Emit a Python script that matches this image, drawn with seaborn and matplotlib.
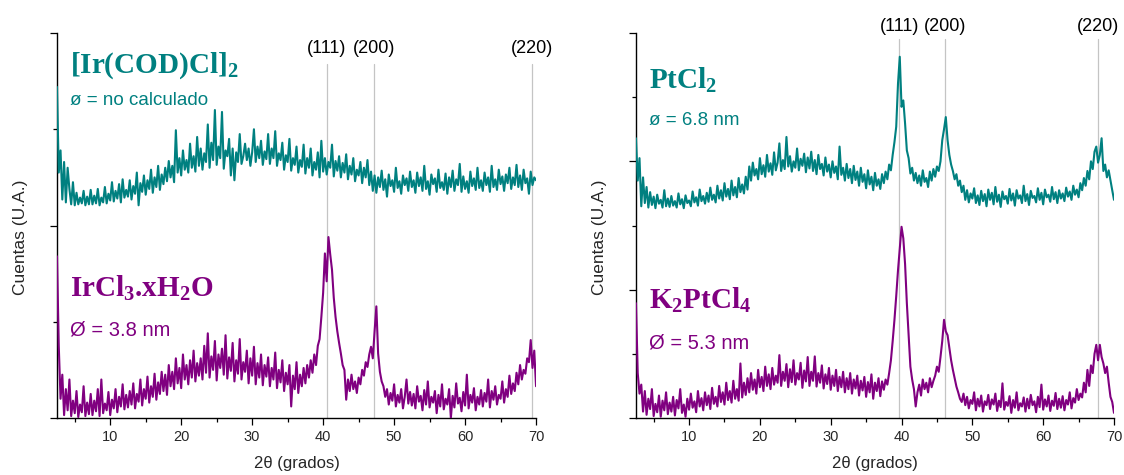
import numpy as np
import pandas as pd
import matplotlib
matplotlib.use("Agg")
import matplotlib.pyplot as plt
from matplotlib.ticker import MultipleLocator, NullFormatter
import seaborn as sns

# ---------------------------------------------------------------------------
# data (2theta grid, step 0.25 deg)
# ---------------------------------------------------------------------------
two_theta = np.arange(2.5, 70.001, 0.25)

# [Ir(COD)Cl]2 (left, top trace)
ir_cod_rows = [
    [3.44, 2.55, 2.78, 2.27, 2.66, 2.24, 2.60, 2.38, 2.22, 2.45, 2.21, 2.34, 2.22, 2.29, 2.23, 2.36, 2.21, 2.30, 2.22, 2.37],
    [2.22, 2.31, 2.23, 2.38, 2.21, 2.29, 2.24, 2.40, 2.23, 2.33, 2.26, 2.45, 2.25, 2.36, 2.28, 2.43, 2.24, 2.48, 2.29, 2.37],
    [2.30, 2.47, 2.27, 2.41, 2.33, 2.55, 2.21, 2.44, 2.35, 2.52, 2.32, 2.47, 2.38, 2.58, 2.34, 2.50, 2.40, 2.62, 2.37, 2.53],
    [2.43, 2.60, 2.46, 2.67, 2.50, 2.62, 2.45, 2.99, 2.55, 2.70, 2.52, 2.78, 2.58, 2.68, 2.55, 2.85, 2.60, 2.72, 2.56, 2.92],
    [2.62, 2.80, 2.58, 2.75, 2.66, 3.05, 2.60, 2.86, 2.68, 3.20, 2.63, 2.82, 2.70, 3.18, 2.59, 2.78, 2.72, 2.90, 2.52, 2.80],
    [2.47, 2.76, 2.66, 2.95, 2.64, 2.72, 2.85, 2.68, 2.80, 2.62, 2.76, 3.00, 2.66, 2.82, 2.70, 2.88, 2.63, 2.77, 2.69, 2.95],
    [2.64, 2.80, 2.70, 2.98, 2.62, 2.75, 2.68, 2.86, 2.58, 2.73, 2.66, 2.90, 2.57, 2.70, 2.63, 2.82, 2.55, 2.68, 2.61, 2.84],
    [2.54, 2.70, 2.60, 2.80, 2.52, 2.66, 2.58, 2.76, 2.50, 2.88, 2.56, 2.70, 2.53, 2.66, 2.60, 2.84, 2.51, 2.67, 2.57, 2.72],
    [2.50, 2.65, 2.55, 2.74, 2.48, 2.62, 2.53, 2.70, 2.46, 2.58, 2.52, 2.66, 2.44, 2.60, 2.50, 2.68, 2.42, 2.56, 2.36, 2.52],
    [2.34, 2.50, 2.40, 2.57, 2.37, 2.48, 2.30, 2.53, 2.41, 2.47, 2.35, 2.60, 2.39, 2.46, 2.33, 2.52, 2.42, 2.49, 2.36, 2.56],
    [2.40, 2.47, 2.34, 2.55, 2.41, 2.50, 2.36, 2.62, 2.38, 2.46, 2.32, 2.53, 2.43, 2.49, 2.35, 2.58, 2.39, 2.45, 2.37, 2.54],
    [2.33, 2.50, 2.40, 2.57, 2.36, 2.48, 2.42, 2.64, 2.35, 2.51, 2.38, 2.46, 2.34, 2.56, 2.41, 2.49, 2.37, 2.60, 2.39, 2.47],
    [2.36, 2.55, 2.42, 2.50, 2.35, 2.62, 2.40, 2.48, 2.37, 2.58, 2.43, 2.51, 2.36, 2.53, 2.44, 2.60, 2.38, 2.50, 2.42, 2.63],
    [2.40, 2.52, 2.37, 2.58, 2.44, 2.49, 2.33, 2.56, 2.42, 2.50, 2.47],
]

# IrCl3.xH2O (left, bottom trace)
ircl3_rows = [
    [1.68, 0.75, 0.20, 0.45, 0.03, 0.30, 0.08, 0.40, 0.02, 0.18, 0.05, 0.28, 0.01, 0.14, 0.06, 0.33, 0.02, 0.16, 0.04, 0.25],
    [0.03, 0.18, 0.07, 0.30, 0.02, 0.40, 0.05, 0.15, 0.08, 0.27, 0.03, 0.19, 0.10, 0.30, 0.06, 0.22, 0.12, 0.35, 0.09, 0.24],
    [0.11, 0.28, 0.14, 0.36, 0.10, 0.25, 0.17, 0.40, 0.13, 0.30, 0.20, 0.43, 0.16, 0.33, 0.22, 0.46, 0.19, 0.37, 0.25, 0.48],
    [0.28, 0.45, 0.24, 0.55, 0.33, 0.48, 0.30, 0.62, 0.36, 0.52, 0.31, 0.66, 0.40, 0.55, 0.35, 0.60, 0.42, 0.70, 0.38, 0.57],
    [0.44, 0.62, 0.40, 0.75, 0.47, 0.88, 0.42, 0.64, 0.50, 0.80, 0.39, 0.66, 0.52, 0.72, 0.45, 0.86, 0.41, 0.63, 0.49, 0.78],
    [0.38, 0.60, 0.46, 0.82, 0.40, 0.58, 0.48, 0.70, 0.36, 0.62, 0.44, 0.74, 0.35, 0.57, 0.42, 0.66, 0.34, 0.55, 0.43, 0.63],
    [0.33, 0.52, 0.40, 0.68, 0.31, 0.50, 0.37, 0.60, 0.28, 0.47, 0.35, 0.55, 0.12, 0.44, 0.30, 0.58, 0.26, 0.45, 0.33, 0.52],
    [0.36, 0.55, 0.42, 0.60, 0.47, 0.66, 0.55, 0.75, 0.82, 1.05, 1.30, 1.71, 1.42, 1.88, 1.70, 1.54, 1.25, 1.05, 0.90, 0.78],
    [0.67, 0.55, 0.50, 0.19, 0.40, 0.28, 0.45, 0.30, 0.38, 0.26, 0.42, 0.35, 0.50, 0.44, 0.58, 0.53, 0.66, 0.74, 0.62, 0.90],
    [1.16, 0.67, 0.48, 0.38, 0.33, 0.22, 0.30, 0.14, 0.26, 0.18, 0.35, 0.12, 0.24, 0.16, 0.30, 0.10, 0.22, 0.40, 0.15, 0.27],
    [0.13, 0.25, 0.10, 0.33, 0.17, 0.23, 0.08, 0.29, 0.14, 0.38, 0.11, 0.22, 0.16, 0.28, 0.05, 0.24, 0.12, 0.35, 0.09, 0.20],
    [0.14, 0.30, 0.00, 0.23, 0.11, 0.36, 0.15, 0.21, 0.07, 0.27, 0.13, 0.45, 0.10, 0.24, 0.16, 0.31, 0.08, 0.22, 0.14, 0.29],
    [0.12, 0.26, 0.17, 0.40, 0.11, 0.28, 0.19, 0.33, 0.14, 0.24, 0.20, 0.38, 0.16, 0.30, 0.22, 0.44, 0.25, 0.36, 0.28, 0.47],
    [0.35, 0.55, 0.40, 0.50, 0.46, 0.62, 0.58, 0.81, 0.52, 0.70, 0.33],
]

# PtCl2 (right, top trace)
ptcl2_rows = [
    [4.36, 3.70, 4.05, 3.30, 3.75, 3.35, 3.60, 3.28, 3.52, 3.32, 3.45, 3.27, 3.48, 3.34, 3.40, 3.28, 3.55, 3.30, 3.42, 3.29],
    [3.46, 3.31, 3.38, 3.28, 3.50, 3.33, 3.41, 3.27, 3.47, 3.35, 3.39, 3.30, 3.53, 3.36, 3.44, 3.31, 3.56, 3.38, 3.46, 3.34],
    [3.51, 3.37, 3.59, 3.40, 3.48, 3.36, 3.62, 3.42, 3.55, 3.39, 3.66, 3.45, 3.57, 3.41, 3.70, 3.47, 3.60, 3.44, 3.74, 3.52],
    [3.64, 3.50, 3.76, 3.56, 3.92, 3.70, 3.98, 3.78, 3.88, 3.72, 4.05, 3.80, 3.94, 3.76, 4.10, 3.84, 3.97, 3.79, 4.14, 3.86],
    [3.98, 4.28, 3.85, 4.02, 3.88, 4.38, 3.92, 4.08, 3.84, 4.00, 3.90, 4.20, 3.86, 4.04, 3.93, 4.12, 3.83, 4.06, 3.89, 4.15],
    [3.85, 4.02, 3.80, 4.10, 3.88, 3.96, 3.78, 4.06, 3.84, 3.95, 3.75, 4.00, 3.82, 3.92, 3.72, 4.23, 3.79, 3.90, 3.70, 3.96],
    [3.74, 3.88, 3.66, 3.93, 3.71, 3.84, 3.62, 3.90, 3.68, 3.80, 3.58, 3.86, 3.64, 3.76, 3.55, 3.82, 3.62, 3.72, 3.57, 3.80],
    [3.66, 3.84, 3.72, 3.95, 3.86, 4.10, 4.30, 4.54, 5.21, 5.63, 4.85, 4.95, 4.59, 4.17, 4.05, 3.81, 3.90, 3.70, 3.82, 3.66],
    [3.78, 3.62, 3.86, 3.68, 3.74, 3.60, 3.84, 3.70, 3.88, 3.76, 3.92, 3.85, 4.00, 4.33, 4.50, 4.69, 4.33, 4.10, 3.95, 3.85],
    [3.72, 3.80, 3.62, 3.70, 3.52, 3.62, 3.40, 3.55, 3.36, 3.50, 3.42, 3.58, 3.35, 3.47, 3.32, 3.54, 3.38, 3.49, 3.30, 3.56],
    [3.40, 3.51, 3.33, 3.60, 3.37, 3.48, 3.29, 3.53, 3.41, 3.46, 3.34, 3.57, 3.39, 3.50, 3.31, 3.55, 3.42, 3.47, 3.35, 3.62],
    [3.38, 3.49, 3.32, 3.54, 3.43, 3.46, 3.36, 3.58, 3.40, 3.51, 3.33, 3.56, 3.44, 3.48, 3.37, 3.60, 3.41, 3.52, 3.35, 3.55],
    [3.42, 3.50, 3.38, 3.59, 3.45, 3.53, 3.40, 3.62, 3.48, 3.56, 3.44, 3.66, 3.55, 3.74, 3.62, 3.85, 3.72, 4.00, 3.88, 4.15],
    [4.23, 3.98, 4.10, 4.36, 3.85, 3.95, 3.75, 3.86, 3.70, 3.55, 3.40],
]

# K2PtCl4 (right, bottom trace)
k2ptcl4_rows = [
    [1.79, 0.70, 0.38, 0.52, 0.10, 0.42, 0.05, 0.30, 0.14, 0.45, 0.03, 0.22, 0.09, 0.35, 0.02, 0.27, 0.12, 0.40, 0.06, 0.24],
    [0.10, 0.33, 0.04, 0.28, 0.15, 0.45, 0.08, 0.21, 0.02, 0.30, 0.13, 0.38, 0.16, 0.26, 0.09, 0.42, 0.18, 0.31, 0.12, 0.40],
    [0.20, 0.35, 0.14, 0.47, 0.22, 0.33, 0.18, 0.50, 0.25, 0.40, 0.21, 0.55, 0.28, 0.42, 0.24, 0.58, 0.30, 0.45, 0.27, 0.85],
    [0.32, 0.55, 0.36, 0.62, 0.40, 0.70, 0.44, 0.60, 0.38, 0.75, 0.48, 0.64, 0.42, 0.80, 0.50, 0.68, 0.45, 0.78, 0.52, 0.66],
    [0.55, 0.98, 0.50, 0.72, 0.58, 0.84, 0.48, 0.76, 0.56, 0.90, 0.52, 0.70, 0.60, 0.86, 0.47, 0.74, 0.57, 0.95, 0.50, 0.72],
    [0.58, 0.96, 0.49, 0.70, 0.55, 0.82, 0.46, 0.68, 0.53, 0.78, 0.44, 0.66, 0.50, 0.75, 0.42, 0.64, 0.48, 0.72, 0.40, 0.62],
    [0.45, 0.70, 0.38, 0.60, 0.46, 0.66, 0.35, 0.58, 0.43, 0.64, 0.33, 0.56, 0.40, 0.68, 0.30, 0.55, 0.42, 0.62, 0.34, 0.57],
    [0.44, 0.60, 0.52, 0.70, 0.90, 1.20, 1.53, 1.90, 2.30, 2.65, 2.98, 2.80, 2.40, 1.79, 1.30, 0.80, 0.60, 0.45, 0.18, 0.40],
    [0.52, 0.35, 0.60, 0.45, 0.55, 0.40, 0.62, 0.48, 0.58, 0.66, 0.80, 0.72, 0.95, 1.20, 1.53, 1.35, 1.29, 1.10, 0.90, 0.75],
    [0.62, 0.49, 0.40, 0.30, 0.25, 0.38, 0.20, 0.33, 0.15, 0.28, 0.22, 0.40, 0.12, 0.30, 0.18, 0.35, 0.10, 0.26, 0.20, 0.36],
    [0.14, 0.29, 0.21, 0.38, 0.11, 0.27, 0.17, 0.54, 0.13, 0.25, 0.19, 0.34, 0.08, 0.28, 0.16, 0.40, 0.12, 0.23, 0.18, 0.32],
    [0.10, 0.30, 0.15, 0.36, 0.20, 0.26, 0.09, 0.33, 0.17, 0.52, 0.13, 0.29, 0.18, 0.35, 0.11, 0.27, 0.19, 0.39, 0.14, 0.30],
    [0.16, 0.34, 0.12, 0.28, 0.21, 0.40, 0.15, 0.31, 0.24, 0.45, 0.28, 0.38, 0.32, 0.55, 0.40, 0.75, 0.50, 0.82, 0.70, 1.00],
    [1.14, 0.90, 1.14, 0.95, 0.85, 0.70, 0.80, 0.55, 0.33, 0.25, 0.08],
]

peak_names = ["(111)", "(200)", "(220)"]
peaks_ir = [40.5, 47.2, 69.4]
peaks_pt = [39.7, 46.2, 67.8]

labels_ir = [r"[Ir(COD)Cl]$_2$", "ø = no calculado", r"IrCl$_3$.xH$_2$O", "Ø = 3.8 nm"]
labels_pt = [r"PtCl$_2$", "ø = 6.8 nm", r"K$_2$PtCl$_4$", "Ø = 5.3 nm"]

TEAL = "#008080"
PURPLE = "#800080"
GREY = "#c4c4c4"


def flat(rows):
    return [v for r in rows for v in r]


df = pd.DataFrame({
    "two_theta": two_theta,
    "ir_cod": flat(ir_cod_rows),
    "ircl3": flat(ircl3_rows),
    "ptcl2": flat(ptcl2_rows),
    "k2ptcl4": flat(k2ptcl4_rows),
})

# ---------------------------------------------------------------------------
# styling
# ---------------------------------------------------------------------------
sns.set_theme(style="ticks")
plt.rcParams["font.family"] = ["Liberation Sans", "DejaVu Sans"]
plt.rcParams["mathtext.fontset"] = "custom"
plt.rcParams["mathtext.rm"] = "Liberation Serif:bold"
plt.rcParams["mathtext.bf"] = "Liberation Serif:bold"
plt.rcParams["mathtext.it"] = "Liberation Serif:bold"
plt.rcParams["mathtext.default"] = "bf"

fig = plt.figure(figsize=(11.24, 4.75), dpi=100)
ax_l = fig.add_axes([0.0507, 0.12, 0.4262, 0.8105])
ax_r = fig.add_axes([0.5658, 0.12, 0.4253, 0.8105])

panels = [
    (ax_l, "ir_cod", "ircl3", peaks_ir, labels_ir, 4, 0.919, 0.961, (0.896, 0.826, 0.314, 0.229)),
    (ax_r, "ptcl2", "k2ptcl4", peaks_pt, labels_pt, 6, 0.984, 1.016, (0.855, 0.774, 0.283, 0.195)),
]

for ax, top, bot, peaks, labels, ymax, line_top, lab_y, txt_y in panels:
    for p, name in zip(peaks, peak_names):
        ax.axvline(p, ymin=0, ymax=line_top, color=GREY, lw=0.9, zorder=1)
        ax.text(p, lab_y, name, transform=ax.get_xaxis_transform(),
                ha="center", va="center", fontsize=13, color="black")

    sns.lineplot(data=df, x="two_theta", y=top, ax=ax, color=TEAL, lw=1.5, zorder=3)
    sns.lineplot(data=df, x="two_theta", y=bot, ax=ax, color=PURPLE, lw=1.5, zorder=3)

    ax.set_xlim(2.5, 70)
    ax.set_ylim(0, ymax)
    ax.xaxis.set_major_locator(MultipleLocator(10))
    ax.xaxis.set_minor_locator(MultipleLocator(5))
    ax.yaxis.set_major_locator(MultipleLocator(2))
    ax.yaxis.set_minor_locator(MultipleLocator(1))
    ax.yaxis.set_major_formatter(NullFormatter())
    ax.tick_params(which="major", length=5, width=0.9, labelsize=10.5, color="black")
    ax.tick_params(which="minor", length=3, width=0.9, color="black")
    sns.despine(ax=ax)
    for s in ("left", "bottom"):
        ax.spines[s].set_color("black")
        ax.spines[s].set_linewidth(1.0)

    ax.set_xlabel("2θ (grados)", fontsize=12)
    ax.set_ylabel("Cuentas (U.A.)", fontsize=12.5)
    ax.xaxis.set_label_coords(0.5, -0.098)
    ax.yaxis.set_label_coords(-0.06, 0.47)

    ax.text(0.028, txt_y[0], labels[0], transform=ax.transAxes, color=TEAL,
            fontfamily="Liberation Serif", fontweight="bold", fontsize=21, va="baseline")
    ax.text(0.028, txt_y[1], labels[1], transform=ax.transAxes, color=TEAL,
            fontsize=13.5, va="center")
    ax.text(0.028, txt_y[2], labels[2], transform=ax.transAxes, color=PURPLE,
            fontfamily="Liberation Serif", fontweight="bold", fontsize=21, va="baseline")
    ax.text(0.028, txt_y[3], labels[3], transform=ax.transAxes, color=PURPLE,
            fontsize=14.5, va="center")

fig.savefig("out.png", dpi=100)
